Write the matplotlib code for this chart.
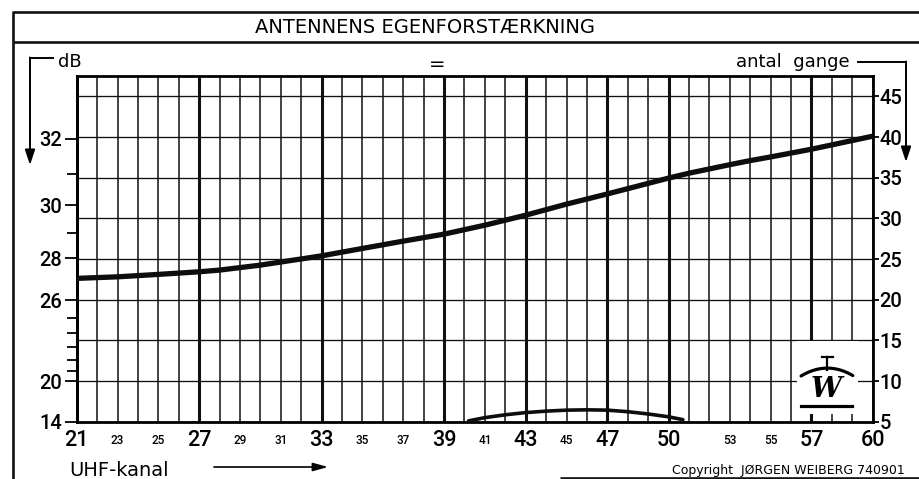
import matplotlib.pyplot as plt
import numpy as np
from matplotlib.patches import Rectangle

plt.rcParams['font.family'] = ['DejaVu Sans']

# Egenforstærkning read in "antal gange" (linear gain factor) per UHF channel
kanal = [21, 23, 25, 27, 28, 30, 33, 35, 37, 39, 41, 43, 45, 47, 48, 50, 51, 53, 54, 55, 57, 60]
gange = [22.62, 22.81, 23.11, 23.43, 23.64, 24.25, 25.39, 26.30, 27.20, 28.06, 29.16,
         30.39, 31.75, 33.0, 33.65, 34.95, 35.55, 36.6, 37.1, 37.55, 38.5, 40.1]

# small hump near the bottom of the chart
hump_kanal = [40.2, 41, 42, 43, 44, 45, 46, 47, 48, 49, 50, 50.7]
hump_gange = [5.1, 5.5, 5.85, 6.12, 6.3, 6.42, 6.46, 6.42, 6.23, 5.95, 5.6, 5.25]

alle_kanaler = list(range(21, 61))
tykke_kanaler = [27, 33, 39, 43, 47, 50, 57]
label_kanaler = [21, 23, 25, 27, 29, 31, 33, 35, 37, 39, 41, 43, 45, 47, 50, 53, 55, 57, 60]
store_labels = [21, 27, 33, 39, 43, 47, 50, 57, 60]

gange_ticks = [5, 10, 15, 20, 25, 30, 35, 40, 45]
db_ticks = [14, 20, 26, 28, 30, 32]
db_minor = [21, 22, 23, 24, 25, 29, 31]

fig = plt.figure(figsize=(9.19, 4.79), dpi=100)

# full-figure layer in pixel units for frame, arrows and captions
deco = fig.add_axes([0, 0, 1, 1])
deco.set_xlim(0, 919)
deco.set_ylim(479, 0)
deco.axis('off')

ax = fig.add_axes([76.7 / 919, 1 - 421.7 / 479, 796 / 919, 345.7 / 479])
ax.set_xlim(21, 60)
ax.set_ylim(5, 47.5)

# grid
ax.vlines(alle_kanaler, 5, 47.5, color='#111111', lw=1.1, zorder=1)
ax.vlines(tykke_kanaler, 5, 47.5, color='#111111', lw=2.2, zorder=1)
ax.hlines(gange_ticks, 21, 60, color='#111111', lw=0.95, zorder=1)
for s in ax.spines.values():
    s.set_linewidth(2)

# curves
ax.plot(kanal, gange, color='#0d0d0d', lw=3.8, solid_capstyle='round',
        solid_joinstyle='round', zorder=5)
ax.plot(hump_kanal, hump_gange, color='#0d0d0d', lw=2.6, solid_capstyle='round',
        solid_joinstyle='round', zorder=5)

# right axis: antal gange
ax.yaxis.tick_right()
ax.set_yticks(gange_ticks)
ax.tick_params(axis='y', length=4, width=1.3, pad=1, labelsize=14.5)
for lbl in ax.get_yticklabels():
    lbl.set_family('Roboto')
    lbl.set_weight(500)

# left axis: dB = 20 log10(gange)
def to_db(g):
    return 20 * np.log10(np.clip(g, 1e-6, None))


def from_db(d):
    return 10 ** (np.asarray(d) / 20)


sec = ax.secondary_yaxis('left', functions=(to_db, from_db))
sec.set_yticks(db_ticks)
sec.set_yticks(db_minor, minor=True)
sec.tick_params(axis='y', which='major', length=8.5, width=1.3, pad=2, labelsize=14.5)
sec.tick_params(axis='y', which='minor', length=7, width=1.3)
sec.spines['left'].set_linewidth(2)
for lbl in sec.get_yticklabels():
    lbl.set_family('Roboto')
    lbl.set_weight(500)

# bottom axis: UHF channels
ax.set_xticks(label_kanaler, labels=[str(k) for k in label_kanaler])
ax.tick_params(axis='x', length=0, pad=13.2)
for lbl, k in zip(ax.get_xticklabels(), label_kanaler):
    lbl.set_family('Roboto')
    lbl.set_weight(500)
    lbl.set_fontsize(15.5 if k in store_labels else 8.5)
    lbl.set_verticalalignment('center')

# W logo in the lower right corner
ax.add_patch(Rectangle((0.905, 0.022), 0.076, 0.211, transform=ax.transAxes,
                       facecolor='white', edgecolor='none', zorder=3))
ax.plot([0.936, 0.950], [0.187, 0.187], transform=ax.transAxes, color='k', lw=1.6, zorder=4)
ax.plot([0.943, 0.943], [0.187, 0.150], transform=ax.transAxes, color='k', lw=1.6, zorder=4)
rx = np.linspace(0.910, 0.975, 30)
ax.plot(rx, 0.155 - 21 * (rx - 0.943) ** 2, transform=ax.transAxes, color='k', lw=2.3,
        solid_capstyle='round', zorder=4)
ax.text(0.942, 0.092, 'W', transform=ax.transAxes, ha='center', va='center',
        family='DejaVu Serif', weight='bold', style='italic', fontsize=20, zorder=4)
ax.plot([0.910, 0.974], [0.045, 0.045], transform=ax.transAxes, color='k', lw=2.3, zorder=4)

# frame and title bar
frame = dict(color='#111111', lw=1.9, solid_capstyle='butt')
deco.plot([13, 919], [12, 12], **frame)
deco.plot([13, 919], [42, 42], **frame)
deco.plot([13, 13], [11, 479], **frame)
deco.plot([560, 919], [477.5, 477.5], **frame)
deco.text(425, 27, 'ANTENNENS EGENFORSTÆRKNING', ha='center', va='center', fontsize=14)

# axis captions with bracket arrows
deco.text(58, 67, 'dB', ha='left', va='baseline', fontsize=13)
deco.plot([30, 53], [58, 58], color='k', lw=1.4)
deco.annotate('', xy=(30, 165), xytext=(30, 57.5),
              arrowprops=dict(arrowstyle='-|>,head_length=0.9,head_width=0.3',
                              color='k', lw=1.4, shrinkA=0, shrinkB=0))
deco.text(437, 64, '=', ha='center', va='center', fontsize=14)
deco.text(850, 67, 'antal  gange', ha='right', va='baseline', fontsize=13)
deco.plot([858, 906], [62, 62], color='k', lw=1.4)
deco.annotate('', xy=(906, 162), xytext=(906, 61.5),
              arrowprops=dict(arrowstyle='-|>,head_length=0.9,head_width=0.3',
                              color='k', lw=1.4, shrinkA=0, shrinkB=0))

deco.text(69, 476, 'UHF-kanal', ha='left', va='baseline', fontsize=14)
deco.annotate('', xy=(328, 467), xytext=(214, 467),
              arrowprops=dict(arrowstyle='-|>,head_length=0.9,head_width=0.25',
                              color='k', lw=1.2, shrinkA=0, shrinkB=0))
deco.text(905, 474, 'Copyright  JØRGEN WEIBERG 740901', ha='right', va='baseline', fontsize=9)

fig.savefig('out.png', dpi=100)
